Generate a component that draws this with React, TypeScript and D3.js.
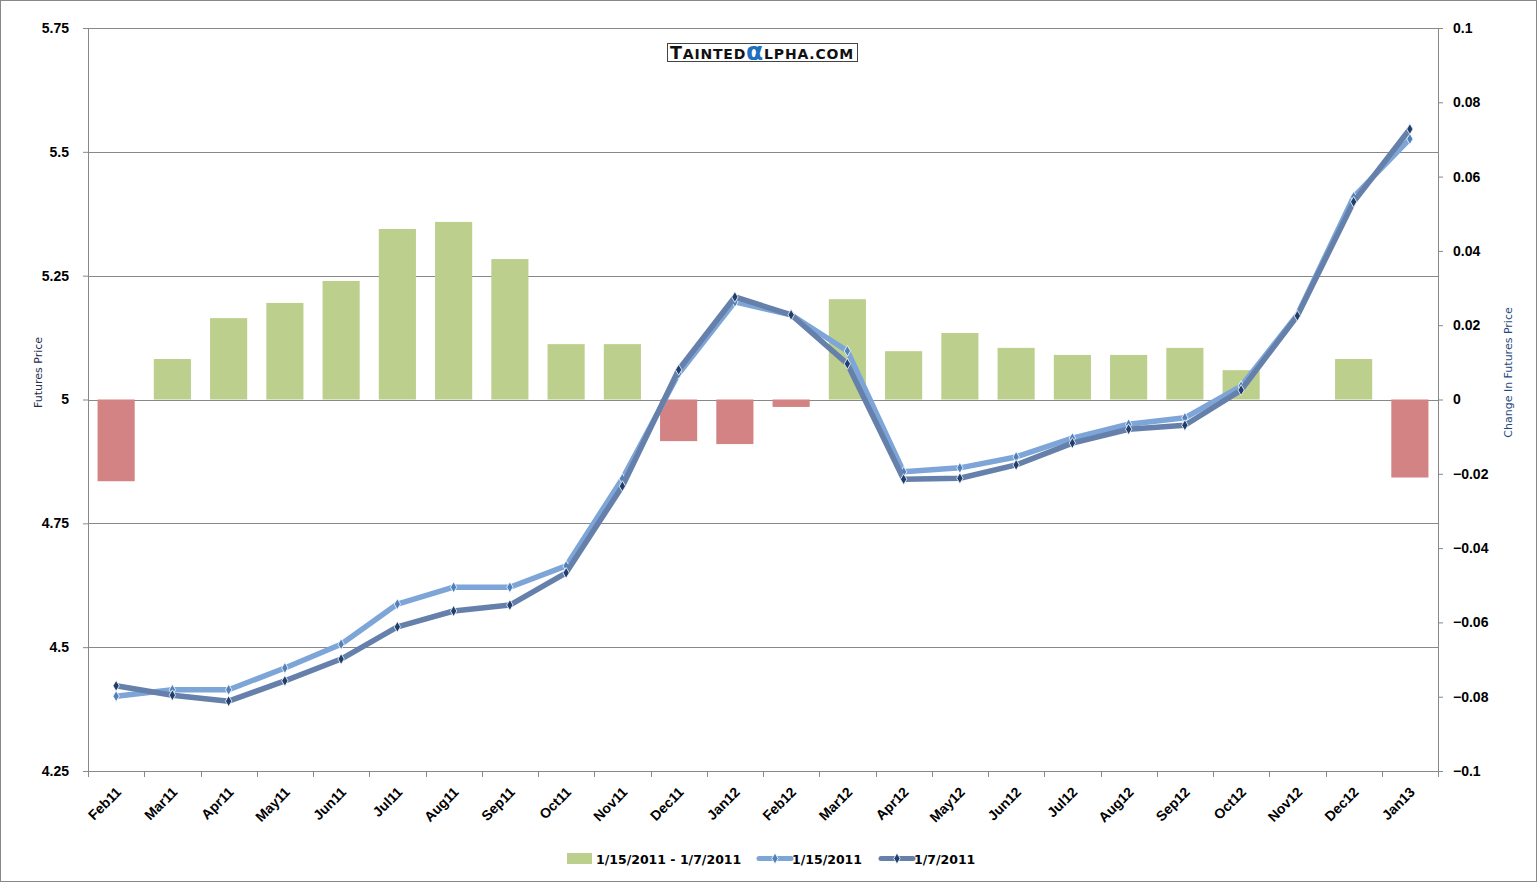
import * as d3 from 'd3';
import { useEffect, useRef } from 'react';

const months = ['Feb11', 'Mar11', 'Apr11', 'May11', 'Jun11', 'Jul11', 'Aug11', 'Sep11', 'Oct11', 'Nov11', 'Dec11', 'Jan12',
  'Feb12', 'Mar12', 'Apr12', 'May12', 'Jun12', 'Jul12', 'Aug12', 'Sep12', 'Oct12', 'Nov12', 'Dec12', 'Jan13'];

// futures curve as of 1/15/2011
const price0115 = [4.401, 4.414, 4.414, 4.458, 4.506, 4.587, 4.621, 4.621, 4.664, 4.84, 5.052, 5.197,
  5.171, 5.098, 4.854, 4.862, 4.884, 4.922, 4.95, 4.963, 5.027, 5.171, 5.409, 5.526];

// futures curve as of 1/7/2011
const price0107 = [4.422, 4.403, 4.391, 4.432, 4.476, 4.541, 4.573, 4.585, 4.65, 4.825, 5.06, 5.207,
  5.171, 5.072, 4.839, 4.841, 4.868, 4.912, 4.94, 4.948, 5.019, 5.169, 5.399, 5.546];

// change between the two dates
const change = [-0.022, 0.0109, 0.0219, 0.026, 0.0319, 0.0459, 0.0478, 0.0378, 0.0149, 0.0149, -0.0112, -0.012,
  -0.002, 0.027, 0.013, 0.0179, 0.0139, 0.012, 0.012, 0.0139, 0.0079, 0, 0.0109, -0.021];

const leftTicks = [4.25, 4.5, 4.75, 5, 5.25, 5.5, 5.75];
const rightTicks = [-0.1, -0.08, -0.06, -0.04, -0.02, 0, 0.02, 0.04, 0.06, 0.08, 0.1];

const W = 1537;
const H = 882;
const margin = { top: 28, right: 99, bottom: 111, left: 88 };
const font = '"Liberation Sans", Arial, sans-serif';
const wideFont = '"DejaVu Sans", Verdana, sans-serif';

const LIGHT = '#7ea5d8';
const LIGHT_MARK = '#4f81bd';
const DARK = '#6580aa';
const DARK_MARK = '#1f3f6e';
const GREEN = '#bccf8d';
const RED = '#d38383';

export default function App() {
  const svgRef = useRef<SVGSVGElement | null>(null);

  useEffect(() => {
    document.body.style.margin = '0';
    const innerW = W - margin.left - margin.right;
    const innerH = H - margin.top - margin.bottom;

    const svg = d3.select(svgRef.current);
    svg.selectAll('*').remove();

    svg.append('rect')
      .attr('x', 0.5).attr('y', 0.5)
      .attr('width', W - 1).attr('height', H - 1)
      .attr('fill', '#fff')
      .attr('stroke', '#888');

    const g = svg.append('g').attr('transform', `translate(${margin.left},${margin.top})`);

    const x = d3.scaleBand().domain(months).range([0, innerW]).paddingInner(0.34).paddingOuter(0.17);
    const xc = (m: string) => (x(m) as number) + x.bandwidth() / 2;
    const y = d3.scaleLinear().domain([4.25, 5.75]).range([innerH, 0]);
    const y2 = d3.scaleLinear().domain([-0.1, 0.1]).range([innerH, 0]);

    // gridlines
    g.append('g')
      .selectAll('line')
      .data(leftTicks.slice(1))
      .join('line')
      .attr('x1', 0).attr('x2', innerW)
      .attr('y1', d => Math.round(y(d)) + 0.5).attr('y2', d => Math.round(y(d)) + 0.5)
      .attr('stroke', '#888').attr('stroke-width', 1);

    // bars
    g.append('g')
      .selectAll('rect')
      .data(change)
      .join('rect')
      .attr('x', (_, i) => x(months[i]) as number)
      .attr('width', x.bandwidth())
      .attr('y', d => y2(Math.max(0, d)))
      .attr('height', d => Math.abs(y2(d) - y2(0)))
      .attr('fill', d => (d < 0 ? RED : GREEN));

    // left axis
    const yAxis = g.append('g')
      .call(d3.axisLeft(y).tickValues(leftTicks).tickFormat(d3.format('~g')).tickSize(5).tickPadding(14));
    // right axis
    const y2Axis = g.append('g')
      .attr('transform', `translate(${innerW},0)`)
      .call(d3.axisRight(y2).tickValues(rightTicks).tickFormat(d3.format('~g')).tickSize(5).tickPadding(10));

    [yAxis, y2Axis].forEach(a => {
      a.select('.domain').attr('stroke', '#888');
      a.selectAll('.tick line').attr('stroke', '#888');
      a.selectAll('.tick text')
        .attr('fill', '#000')
        .style('font-family', font)
        .style('font-size', '14px')
        .style('font-weight', 'bold');
    });

    // x axis
    const xg = g.append('g')
      .attr('transform', `translate(0,${innerH})`)
      .call(d3.axisBottom(x).tickSize(0).tickFormat(() => ''));
    xg.select('.domain').attr('stroke', '#888');
    const bounds = months.map(m => (x(m) as number) - x.step() * x.paddingInner() / 2);
    bounds.push(innerW);
    xg.selectAll('line.bound')
      .data(bounds)
      .join('line')
      .attr('class', 'bound')
      .attr('x1', d => Math.round(d) + 0.5).attr('x2', d => Math.round(d) + 0.5)
      .attr('y1', 0).attr('y2', 6)
      .attr('stroke', '#888');
    xg.selectAll('text.lbl')
      .data(months)
      .join('text')
      .attr('class', 'lbl')
      .attr('transform', d => `translate(${xc(d) + 6},${22}) rotate(-45)`)
      .attr('text-anchor', 'end')
      .attr('fill', '#000')
      .style('font-family', font)
      .style('font-size', '14px')
      .style('font-weight', 'bold')
      .text(d => d);

    // lines
    const line = d3.line<number>()
      .x((_, i) => xc(months[i]))
      .y(d => y(d));

    const diamond = d3.symbol().type(d3.symbolDiamond).size(34);

    const drawSeries = (vals: number[], stroke: string, mark: string) => {
      g.append('path')
        .datum(vals)
        .attr('fill', 'none')
        .attr('stroke', stroke)
        .attr('stroke-width', 5.5)
        .attr('stroke-linejoin', 'round')
        .attr('d', line);
      g.append('g')
        .selectAll('path')
        .data(vals)
        .join('path')
        .attr('d', diamond)
        .attr('transform', (d, i) => `translate(${xc(months[i])},${y(d)})`)
        .attr('fill', mark)
        .attr('stroke', '#fff')
        .attr('stroke-width', 0.8);
    };
    drawSeries(price0115, LIGHT, LIGHT_MARK);
    drawSeries(price0107, DARK, DARK_MARK);

    // axis titles
    svg.append('text')
      .attr('transform', `translate(42,${margin.top + y(5) - 27}) rotate(-90)`)
      .attr('text-anchor', 'middle')
      .attr('fill', '#1f2f4f')
      .style('font-family', wideFont)
      .style('font-size', '11px')
      .text('Futures Price');
    svg.append('text')
      .attr('transform', `translate(1512,${margin.top + y(5) - 27}) rotate(-90)`)
      .attr('text-anchor', 'middle')
      .attr('fill', '#1f497d')
      .style('font-family', wideFont)
      .style('font-size', '11px')
      .text('Change In Futures Price');

    // logo
    const logo = svg.append('g').attr('transform', 'translate(667,43)');
    logo.append('rect')
      .attr('x', 0.5).attr('y', 0.5).attr('width', 190).attr('height', 18)
      .attr('fill', '#fff').attr('stroke', '#444');
    const lt = logo.append('text')
      .attr('x', 95).attr('y', 15.5)
      .attr('text-anchor', 'middle')
      .attr('fill', '#111')
      .style('font-family', wideFont)
      .style('font-weight', 'bold')
      .style('letter-spacing', '0.8px');
    lt.append('tspan').style('font-size', '17.5px').text('T');
    lt.append('tspan').style('font-size', '14px').text('AINTED');
    lt.append('tspan').style('font-size', '25px').attr('fill', '#1f6fc0').attr('dy', 1).text('α');
    lt.append('tspan').style('font-size', '14px').attr('dy', -1).text('LPHA.COM');

    // legend
    const lg = svg.append('g')
      .style('font-family', wideFont)
      .style('font-size', '12.5px')
      .style('font-weight', 'bold');
    lg.append('rect').attr('x', 567).attr('y', 853).attr('width', 25).attr('height', 11).attr('fill', GREEN);
    lg.append('text').attr('x', 596).attr('y', 863.5).text('1/15/2011 - 1/7/2011');
    const legLine = (x0: number, stroke: string, mark: string, label: string) => {
      lg.append('line').attr('x1', x0).attr('x2', x0 + 32).attr('y1', 858.5).attr('y2', 858.5)
        .attr('stroke', stroke).attr('stroke-width', 5).attr('stroke-linecap', 'round');
      lg.append('path').attr('d', diamond).attr('transform', `translate(${x0 + 16},858.5)`)
        .attr('fill', mark).attr('stroke', '#fff').attr('stroke-width', 0.8);
      lg.append('text').attr('x', x0 + 33).attr('y', 863.5).text(label);
    };
    legLine(759, LIGHT, LIGHT_MARK, '1/15/2011');
    legLine(881, DARK, DARK_MARK, '1/7/2011');
  }, []);

  return <svg ref={svgRef} width={W} height={H} style={{ display: 'block' }} />;
}
